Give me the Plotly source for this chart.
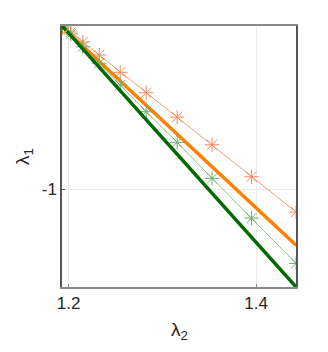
import plotly.graph_objects as go

# values
x_pts = [1.1933, 1.2024, 1.2152, 1.2327, 1.2551, 1.2828, 1.3158, 1.3531, 1.3952, 1.4427]
y_orange_thin = [-0.8281, -0.8324, -0.8430, -0.8569, -0.8753, -0.8971, -0.9230, -0.9525, -0.9866, -1.0242]
y_green_thin = [-0.8270, -0.8345, -0.8481, -0.8657, -0.8889, -0.9173, -0.9499, -0.9883, -1.0306, -1.0789]

x_ends = [1.1933, 1.4427]
y_orange_thick = [-0.8270, -1.0594]
y_green_thick = [-0.8260, -1.1040]

x_start = [1.1933]
y_start = [-0.8275]

fig = go.Figure()

fig.add_trace(go.Scatter(x=x_pts, y=y_orange_thin, mode='lines+markers',
                         line=dict(color='#f79a74', width=1),
                         marker=dict(symbol='asterisk-open', size=12, color='#f5895c',
                                     line=dict(width=1, color='#f5895c'))))
fig.add_trace(go.Scatter(x=x_ends, y=y_orange_thick, mode='lines',
                         line=dict(color='#ff8000', width=3.5)))
fig.add_trace(go.Scatter(x=x_pts, y=y_green_thin, mode='lines+markers',
                         line=dict(color='#8cc08c', width=1),
                         marker=dict(symbol='asterisk-open', size=12, color='#6fae6f',
                                     line=dict(width=1, color='#6fae6f'))))
fig.add_trace(go.Scatter(x=x_ends, y=y_green_thick, mode='lines',
                         line=dict(color='#006a00', width=3.5)))
fig.add_trace(go.Scatter(x=x_start, y=y_start, mode='markers',
                         marker=dict(symbol='circle-open', size=11, color='#ff9a20',
                                     line=dict(width=1.2, color='#ff9a20'))))

# page body adds an 8px offset, margins compensate for it
fig.update_layout(
    width=328, height=352,
    margin=dict(l=54, r=40, t=18, b=73),
    plot_bgcolor='white', paper_bgcolor='white',
    showlegend=False,
    font=dict(family='Liberation Sans, Arial', size=17, color='#262626'),
    annotations=[
        dict(text='λ<sub>2</sub>', xref='paper', yref='paper', x=0.5, y=-0.115,
             xanchor='center', yanchor='top', showarrow=False, font=dict(size=19)),
        dict(text='λ<sub>1</sub>', xref='paper', yref='paper', x=-0.165, y=0.5,
             xanchor='center', yanchor='middle', showarrow=False, textangle=-90,
             font=dict(size=19)),
    ],
)
fig.update_xaxes(range=[1.193, 1.4426], tickvals=[1.2, 1.4], ticktext=['1.2', '1.4'],
                 automargin=False,
                 showgrid=True, gridcolor='#ebebeb', zeroline=False,
                 showline=True, linecolor='#8a8a8a', linewidth=1.5, mirror=True,
                 ticks='inside', ticklen=3, tickcolor='#8a8a8a')
fig.update_yaxes(range=[-1.104, -0.826], tickvals=[-1], ticktext=['-1'],
                 automargin=False,
                 showgrid=True, gridcolor='#ebebeb', zeroline=False,
                 showline=True, linecolor='#555555', linewidth=1.5, mirror=True,
                 ticks='inside', ticklen=3, tickcolor='#555555')

fig.write_html("out.html")
